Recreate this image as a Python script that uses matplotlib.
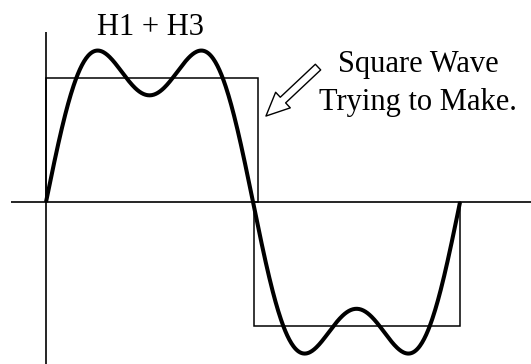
import numpy as np
import matplotlib
matplotlib.use("Agg")
import matplotlib.pyplot as plt

# Harmonic content of the plotted curve
harmonic_orders = [1, 3]
harmonic_amps = [1.0, 0.335]

# Square wave the harmonics approximate (edges in radians, level)
square_x = [0.0, 0.0, 3.21, 3.21, 3.15, 3.15, 2 * np.pi, 2 * np.pi]
square_y = [0.0, 0.773, 0.773, 0.0, 0.0, -0.773, -0.773, 0.0]

title_text = "H1 + H3"
note_lines = ["Square Wave", "Trying to Make."]

fig = plt.figure(figsize=(5.31, 3.64), dpi=100)
ax = fig.add_axes([0, 0, 1, 1])
ax.set_xlim(-0.698, 7.36)
ax.set_ylim(-1.009, 1.259)
ax.axis("off")

# axes lines
ax.plot([0, 0], [-1.1, 1.059], color="black", lw=1.2, solid_capstyle="butt")
ax.plot([-0.53, 7.5], [0, 0], color="black", lw=1.2, solid_capstyle="butt")

# square wave
ax.plot(square_x, square_y, color="black", lw=1.1, solid_joinstyle="miter")

# H1 + H3 curve
t = np.linspace(0, 2 * np.pi, 600)
y = np.zeros_like(t)
for n, a in zip(harmonic_orders, harmonic_amps):
    y += a * np.sin(n * t)
ax.plot(t, y, color="black", lw=2.9, solid_capstyle="butt")

font = dict(family=["Liberation Serif", "DejaVu Serif"], color="black")
ax.text(1.59, 1.04, title_text, ha="center", va="baseline", fontsize=22, **font)
ax.text(5.645, 0.81, note_lines[0], ha="center", va="baseline", fontsize=22, **font)
ax.text(5.645, 0.573, note_lines[1], ha="center", va="baseline", fontsize=22, **font)

# hollow arrow
ax.annotate("", xy=(3.338, 0.536), xytext=(4.128, 0.841),
            arrowprops=dict(arrowstyle="simple,head_length=1.2,head_width=1.1,tail_width=0.4",
                            fc="white", ec="black", lw=1.0, shrinkA=0, shrinkB=0,
                            mutation_scale=14))

fig.savefig("out.png", dpi=100, facecolor="white")
